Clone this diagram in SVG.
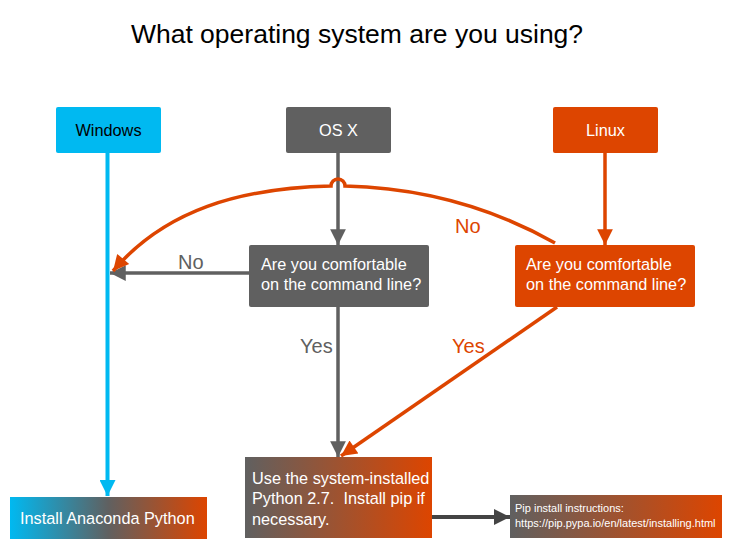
<svg xmlns="http://www.w3.org/2000/svg" width="732" height="549" viewBox="0 0 732 549">
<style>
.t{font-family:"Liberation Sans",Arial,sans-serif}
.title{font-size:26.5px;fill:#000}
.bt{font-size:16.3px;fill:#fff}
.lbl{font-size:20px}
.g{fill:#606060}
.o{fill:#dd4500}
</style>
<defs>
<linearGradient id="g3" x1="0" x2="1" y1="0" y2="0">
<stop offset="0" stop-color="#00b9f1"/>
<stop offset="0.5" stop-color="#606060"/>
<stop offset="1" stop-color="#dd4500"/>
</linearGradient>
<linearGradient id="g2" x1="0" x2="1" y1="0" y2="0">
<stop offset="0" stop-color="#606060"/>
<stop offset="1" stop-color="#dd4500"/>
</linearGradient>
<marker id="ag" viewBox="0 0 10 10" refX="10" refY="5" markerWidth="5.5" markerHeight="4.5" orient="auto" markerUnits="strokeWidth"><path d="M0,0 L10,5 L0,10 z" fill="#606060"/></marker>
<marker id="ao" viewBox="0 0 10 10" refX="10" refY="5" markerWidth="5.5" markerHeight="4.5" orient="auto" markerUnits="strokeWidth"><path d="M0,0 L10,5 L0,10 z" fill="#dd4500"/></marker>
<marker id="ab" viewBox="0 0 10 10" refX="10" refY="5" markerWidth="4.5" markerHeight="4" orient="auto" markerUnits="strokeWidth"><path d="M0,0 L10,5 L0,10 z" fill="#00b9f1"/></marker>
<marker id="ad" viewBox="0 0 10 10" refX="10" refY="5" markerWidth="5" markerHeight="4" orient="auto" markerUnits="strokeWidth"><path d="M0,0 L10,5 L0,10 z" fill="#444"/></marker>
</defs>
<rect width="732" height="549" fill="#fff"/>
<text class="t title" x="357" y="43" text-anchor="middle">What operating system are you using?</text>

<g id="connectors" fill="none">
<line x1="107.5" y1="153" x2="107.5" y2="496" stroke="#00b9f1" stroke-width="4" marker-end="url(#ab)"/>
<line x1="338" y1="153" x2="338" y2="245" stroke="#606060" stroke-width="3.5" marker-end="url(#ag)"/>
<line x1="605" y1="153" x2="605" y2="245" stroke="#dd4500" stroke-width="3.5" marker-end="url(#ao)"/>
<line x1="249" y1="273" x2="110" y2="273" stroke="#606060" stroke-width="3.5" marker-end="url(#ag)"/>
<line x1="338" y1="307" x2="338" y2="457" stroke="#606060" stroke-width="3.5" marker-end="url(#ag)"/>
<line x1="557" y1="307" x2="341" y2="456" stroke="#dd4500" stroke-width="3.5" marker-end="url(#ao)"/>
<path d="M555,243 C500,212 430,188 345,186 A7,7 0 0 0 331,186 C240,188 165,210 113,271" stroke="#dd4500" stroke-width="3.5" marker-end="url(#ao)"/>
<line x1="432" y1="517" x2="510" y2="517" stroke="#444" stroke-width="4" marker-end="url(#ad)"/>
<text class="t lbl g" x="178" y="269">No</text>
<text class="t lbl o" x="455" y="233">No</text>
<text class="t lbl g" x="300" y="353">Yes</text>
<text class="t lbl o" x="452" y="353">Yes</text>
</g>

<g id="windows"><rect x="56" y="107" width="105" height="46" rx="2" fill="#00b9f1"/><text class="t bt" x="108.5" y="136" text-anchor="middle" style="fill:#000">Windows</text></g>
<g id="osx"><rect x="286" y="107" width="105" height="46" rx="2" fill="#606060"/><text class="t bt" x="338.5" y="136" text-anchor="middle">OS X</text></g>
<g id="linux"><rect x="553" y="107" width="105" height="46" rx="2" fill="#dd4500"/><text class="t bt" x="605.5" y="136" text-anchor="middle">Linux</text></g>
<g id="q-osx"><rect x="249" y="245" width="180" height="62" rx="2" fill="#606060"/><text class="t bt" x="261" y="270">Are you comfortable</text><text class="t bt" x="261" y="290">on the command line?</text></g>
<g id="q-linux"><rect x="515" y="245" width="180" height="62" rx="2" fill="#dd4500"/><text class="t bt" x="526" y="270">Are you comfortable</text><text class="t bt" x="526" y="290">on the command line?</text></g>
<g id="system"><rect x="245" y="457" width="187" height="81" fill="url(#g2)"/><text class="t bt" x="252" y="484">Use the system-installed</text><text class="t bt" x="252" y="504" xml:space="preserve">Python 2.7.  Install pip if</text><text class="t bt" x="252" y="525">necessary.</text></g>
<g id="anaconda"><rect x="10" y="497" width="197" height="42" fill="url(#g3)"/><text class="t bt" x="20" y="524">Install Anaconda Python</text></g>
<g id="pip"><rect x="510" y="495" width="212" height="43" fill="url(#g2)"/><text class="t" x="515" y="512" font-size="11" fill="#fff">Pip install instructions:</text><text class="t" x="515" y="527" font-size="11" fill="#fff">https://pip.pypa.io/en/latest/installing.html</text></g>
</svg>
